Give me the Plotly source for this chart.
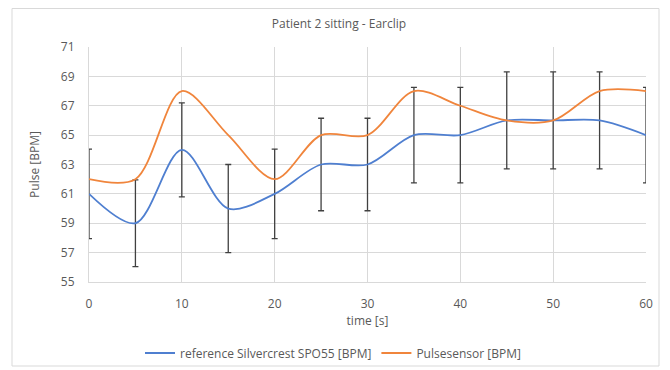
import plotly.graph_objects as go

time_s = [0, 5, 10, 15, 20, 25, 30, 35, 40, 45, 50, 55, 60]
reference_bpm = [61, 59, 64, 60, 61, 63, 63, 65, 65, 66, 66, 66, 65]
pulsesensor_bpm = [62, 62, 68, 65, 62, 65, 65, 68, 67, 66, 66, 68, 68]
reference_err = [3.05, 2.95, 3.2, 3.0, 3.05, 3.15, 3.15, 3.25, 3.25, 3.3, 3.3, 3.3, 3.25]

font_family = "Open Sans, Liberation Sans, sans-serif"
gray_text = "#595959"
fs = 12

fig = go.Figure()
fig.add_trace(go.Scatter(
    x=time_s, y=reference_bpm, mode="lines",
    name="reference Silvercrest SPO55 [BPM]",
    line=dict(color="#4F7FD0", width=1.8, shape="spline", smoothing=0.9),
    error_y=dict(type="data", array=reference_err, visible=True,
                 color="#404040", thickness=1.3, width=3),
))
fig.add_trace(go.Scatter(
    x=time_s, y=pulsesensor_bpm, mode="lines",
    name="Pulsesensor [BPM]",
    line=dict(color="#F0853C", width=1.8, shape="spline", smoothing=0.9),
))

# page has an 8px body margin; coordinates below are in figure pixels
OFF = 8
W, H = 662, 362
L, T = 89 - OFF, 47 - OFF
pw, ph = 557, 235
R = W - L - pw
B = H - T - ph
plot_bottom = T + ph

def py(pix):  # page pixel y -> paper y
    return (plot_bottom - (pix - OFF)) / ph

def px(pix):  # page pixel x -> paper x
    return ((pix - OFF) - L) / pw

fig.update_layout(
    width=W, height=H,
    margin=dict(l=L, r=R, t=T, b=B, autoexpand=False),
    paper_bgcolor="white", plot_bgcolor="white",
    font=dict(family=font_family, size=fs, color=gray_text),
    title=dict(text="Patient 2 sitting - Earclip", x=(339 - OFF) / W, xanchor="center",
               y=1 - (24 - OFF) / H, yanchor="middle",
               font=dict(size=fs, color=gray_text)),
    showlegend=True,
    legend=dict(orientation="h", x=px(333), xanchor="center",
                y=py(353), yanchor="middle",
                font=dict(size=fs, color=gray_text), itemwidth=30,
                bgcolor="rgba(0,0,0,0)"),
    xaxis=dict(range=[0, 60], dtick=10, tick0=0, showgrid=True,
               gridcolor="#d9d9d9", gridwidth=1, zeroline=False,
               showline=True, linecolor="#d9d9d9", mirror=False,
               ticks="", ticklabelstandoff=11, automargin=False,
               tickfont=dict(size=fs, color=gray_text),
               title=dict(text="time [s]", font=dict(size=fs, color=gray_text),
                          standoff=4)),
    yaxis=dict(range=[55, 71], dtick=2, tick0=55, showgrid=True,
               gridcolor="#d9d9d9", gridwidth=1, zeroline=False,
               showline=True, linecolor="#d9d9d9",
               ticks="", ticklabelstandoff=11, automargin=False,
               tickfont=dict(size=fs, color=gray_text),
               title=dict(text="Pulse [BPM]", font=dict(size=fs, color=gray_text),
                          standoff=18)),
    shapes=[dict(type="rect", xref="paper", yref="paper",
                 x0=px(12), x1=px(659),
                 y0=py(366), y1=py(8.5),
                 line=dict(color="#d9d9d9", width=1), fillcolor="rgba(0,0,0,0)",
                 layer="below")],
)

fig.write_html("out.html")
